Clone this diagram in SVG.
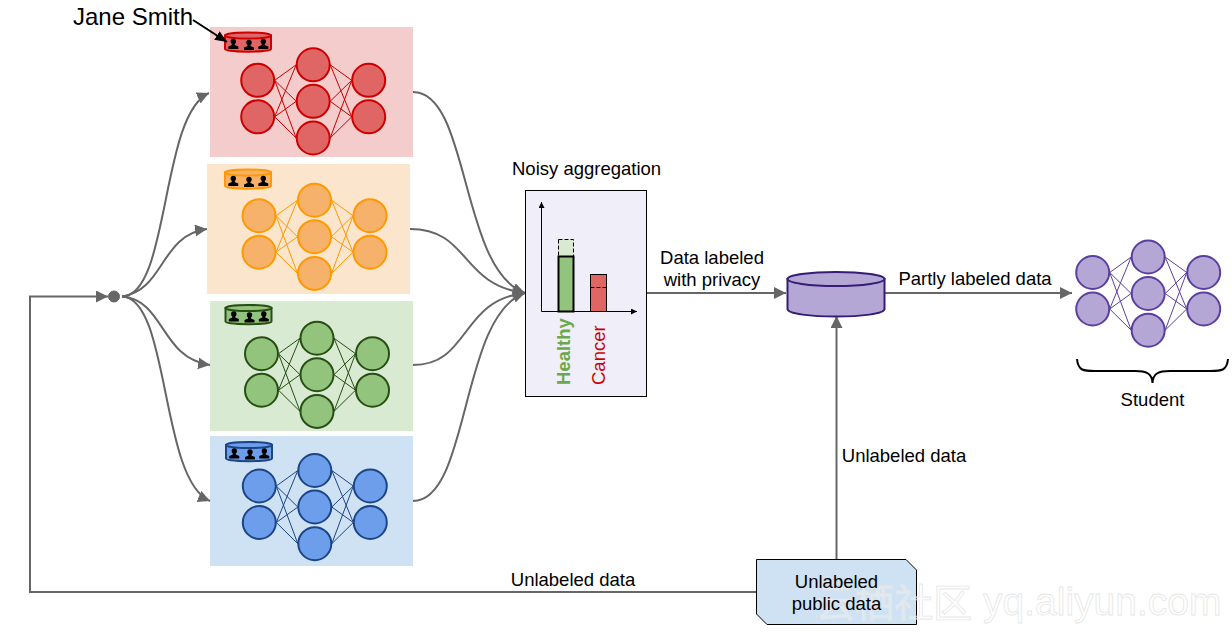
<svg xmlns="http://www.w3.org/2000/svg" xmlns:xlink="http://www.w3.org/1999/xlink" width="1232" height="634" viewBox="0 0 1232 634">
<style>
text{font-family:"Liberation Sans",Arial,sans-serif;font-size:18.500px;fill:#000}
.c{fill:none;stroke:#666;stroke-width:2}
.g{stroke:#666;fill:#666}
.red{fill:#e06666;stroke:#c00}
.org{fill:#f6b26b;stroke:#f90}
.grn{fill:#93c47d;stroke:#274e13}
.blu{fill:#6d9eeb;stroke:#1c4587}
.pur{fill:#b4a7d6;stroke:#5b3f9f}
</style>
<defs>
<marker id="a" markerUnits="userSpaceOnUse" markerWidth="14" markerHeight="14" refX="12" refY="6" orient="auto"><path d="M0 0L12 6L0 12Z" fill="#666"/></marker>
<marker id="b" markerUnits="userSpaceOnUse" markerWidth="8" markerHeight="8" refX="6" refY="3" orient="auto"><path d="M0 0L6 3L0 6Z" fill="#000"/></marker>
<marker id="j" markerUnits="userSpaceOnUse" markerWidth="14" markerHeight="14" refX="12" refY="5" orient="auto"><path d="M0 0L12 5L0 10Z" fill="#000"/></marker>
<g id="net" stroke-width="2">
<path fill="none" stroke-width="1" d="M17 0L38.500-15.500M17 0L38.500 21M17 0L38.500 57.700M17 36.500L38.500-15.500M17 36.500L38.500 21M17 36.500L38.500 57.700M94 0L72.500-15.500M94 0L72.500 21M94 0L72.500 57.700M94 36.500L72.500-15.500M94 36.500L72.500 21M94 36.500L72.500 57.700"/>
<circle r="16.500"/><circle cy="36.500" r="16.500"/>
<circle cx="55.500" cy="-15.500" r="16.500"/><circle cx="55.500" cy="21" r="16.500"/><circle cx="55.500" cy="57.700" r="16.500"/>
<circle cx="111" r="16.500"/><circle cx="111" cy="36.500" r="16.500"/>
</g>
<g id="person"><circle r="2.700" fill="#000" stroke="none"/><path d="M-1.500 2H1.500V3.500L5 5V7.500H-5V5L-1.500 3.500Z" fill="#000" stroke="none"/></g>
<g id="db" stroke-width="2">
<path d="M0 3.500V17C0 20.500 46 20.500 46 17V3.500Z"/>
<ellipse cx="23" cy="3.500" rx="23" ry="3"/>
<use xlink:href="#person" href="#person" x="8.300" y="9.500"/>
<use xlink:href="#person" href="#person" x="24" y="10.500"/>
<use xlink:href="#person" href="#person" x="38.300" y="9.500"/>
</g>
</defs>
<rect width="1232" height="634" fill="#fff"/>

<g id="teacher-red"><rect x="210" y="27" width="203" height="130" fill="#f4cccc"/><use xlink:href="#net" href="#net" class="red" x="257.700" y="80.300"/><use xlink:href="#db" href="#db" class="red" x="225" y="32"/></g>
<g id="teacher-orange"><rect x="207" y="164" width="203" height="130" fill="#fce5cd"/><use xlink:href="#net" href="#net" class="org" x="259" y="215.700"/><use xlink:href="#db" href="#db" class="org" x="225" y="169"/></g>
<g id="teacher-green"><rect x="210" y="301" width="203" height="130" fill="#d9ead3"/><use xlink:href="#net" href="#net" class="grn" x="261.500" y="353.700"/><use xlink:href="#db" href="#db" class="grn" x="225.500" y="304.500"/></g>
<g id="teacher-blue"><rect x="210" y="436" width="203" height="130" fill="#cfe2f3"/><use xlink:href="#net" href="#net" class="blu" x="259.300" y="486"/><use xlink:href="#db" href="#db" class="blu" x="226" y="441.500"/></g>

<g id="connectors">
<path class="c" marker-end="url(#a)" d="M756 592H30V296.500H108"/>
<path class="c" marker-end="url(#a)" d="M122 296.500C170 296 160 115 209 93"/>
<path class="c" marker-end="url(#a)" d="M122 296.500C165 290 160 235 207 229"/>
<path class="c" marker-end="url(#a)" d="M122 296.500C165 300 160 358 210 365"/>
<path class="c" marker-end="url(#a)" d="M122 296.500C170 298 160 480 210 501"/>
<path class="c" marker-end="url(#a)" d="M413 92C470 92 460 270 525 293"/>
<path class="c" marker-end="url(#a)" d="M410 229C470 229 460 285 525 293"/>
<path class="c" marker-end="url(#a)" d="M413 365C470 365 460 300 525 293"/>
<path class="c" marker-end="url(#a)" d="M413 501C470 501 460 315 525 293"/>
<path class="c" marker-end="url(#a)" d="M647 293H786"/>
<path class="c" marker-end="url(#a)" d="M885 293H1072"/>
<path class="c" marker-end="url(#a)" d="M836.500 559V316"/>
<circle class="g" cx="114" cy="296.500" r="5.500"/>
<path d="M193 20L227 42" fill="none" stroke="#000" stroke-width="2" marker-end="url(#j)"/>
</g>

<g id="jane-label"><text x="73" y="25" style="font-size:24px">Jane Smith</text></g>

<g id="aggregation">
<rect x="525.500" y="190.500" width="121" height="206" fill="#f0eef8" stroke="#000"/>
<rect x="558.500" y="239.500" width="15" height="17" fill="#d9ead3" stroke="#000" stroke-dasharray="4 2"/>
<rect x="558.500" y="256.500" width="15" height="55" fill="#93c47d" stroke="#000" stroke-width="2"/>
<rect x="590.500" y="274.500" width="16" height="37" fill="#e06666" stroke="#000"/>
<path d="M590.500 287.500H606.500" stroke="#000" stroke-dasharray="4 2"/>
<path d="M541.500 311.500V202" fill="none" stroke="#000" marker-end="url(#b)"/>
<path d="M541.500 311.500H637" fill="none" stroke="#000" marker-end="url(#b)"/>
<text transform="translate(570 385) rotate(-90)" style="font-weight:700;fill:#6aa84f">Healthy</text>
<text transform="translate(605 385) rotate(-90)" style="fill:#c00">Cancer</text>
<text x="512" y="175">Noisy aggregation</text>
</g>

<g id="labels">
<text x="712" y="264" text-anchor="middle">Data labeled</text>
<text x="712" y="286" text-anchor="middle">with privacy</text>
<text x="975" y="285" text-anchor="middle">Partly labeled data</text>
<text x="904" y="462" text-anchor="middle">Unlabeled data</text>
<text x="573" y="586" text-anchor="middle">Unlabeled data</text>
</g>

<g id="database">
<path class="pur" stroke-width="2" style="stroke:#351c75" d="M787.500 279V309C787.500 319 884.500 319 884.500 309V279Z"/>
<ellipse class="pur" stroke-width="2" style="stroke:#351c75" cx="836" cy="279" rx="48.500" ry="7"/>
</g>

<g id="student">
<use xlink:href="#net" href="#net" class="pur" x="1092.700" y="272.500"/>
<path d="M1077 359C1078 371 1084 371 1095 371H1135C1146 371 1152 373 1152.500 383C1153 373 1159 371 1170 371H1210C1221 371 1227 371 1228 359" fill="none" stroke="#000" stroke-width="2"/>
<text x="1152.500" y="406" text-anchor="middle">Student</text>
</g>

<g id="public-data-box">
<path d="M756.500 559.500H906L916.500 570V624.500H767L756.500 614Z" fill="#cfe2f3" stroke="#000"/>
</g>

<g id="watermark">
<text x="816" y="617" style="font-family:'Noto Sans CJK SC','Liberation Sans',sans-serif;font-size:39px;fill:#fff;fill-opacity:.3;stroke:#e6e6e6;stroke-width:.8">云栖社区</text>
<text x="983" y="615" style="font-size:39px;fill:#fff;fill-opacity:.3;stroke:#e6e6e6;stroke-width:.8">yq.aliyun.com</text>
</g>

<g id="public-data-label">
<text x="836.500" y="588" text-anchor="middle">Unlabeled</text>
<text x="836.500" y="610" text-anchor="middle">public data</text>
</g>
</svg>
